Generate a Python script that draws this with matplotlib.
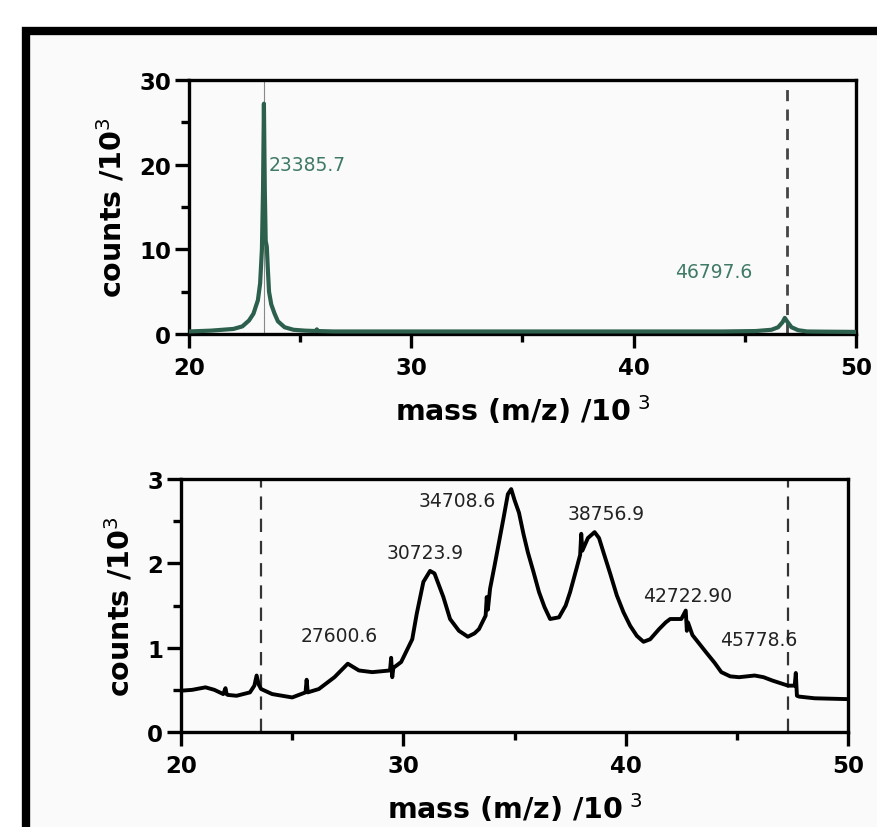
import matplotlib
matplotlib.use("Agg")
import matplotlib.pyplot as plt
from matplotlib.patches import Rectangle
from matplotlib.ticker import MultipleLocator

# ---- data ----
top_mass = [20.0, 20.5, 21.0, 21.5, 22.0, 22.4, 22.7, 22.9, 23.1, 23.2, 23.28, 23.33, 23.37,
            23.41, 23.45, 23.5, 23.54, 23.6, 23.7, 23.85, 24.0, 24.3, 24.7, 25.2,
            25.7, 25.75, 25.8, 26.5, 30.0, 35.0, 40.0, 44.0, 45.5, 46.2, 46.5, 46.7, 46.8, 46.9,
            47.1, 47.4, 47.8, 48.5, 50.0]
top_counts = [0.30, 0.35, 0.40, 0.50, 0.60, 0.90, 1.60, 2.40, 4.0, 6.0, 10.0, 17.0, 27.2,
              17.0, 11.0, 10.3, 8.0, 5.0, 3.5, 2.4, 1.5, 0.80, 0.50, 0.40,
              0.35, 0.55, 0.35, 0.30, 0.30, 0.30, 0.30, 0.30, 0.35, 0.50, 0.80, 1.40, 1.90, 1.50,
              0.80, 0.45, 0.30, 0.28, 0.25]
top_peak_labels = ["23385.7", "46797.6"]
top_label_pos = [(23.6, 20.0), (45.35, 7.4)]
top_marker_lines = [23.37, 46.9]

bot_mass = [20.0, 20.5, 21.1, 21.5, 21.9, 22.0, 22.05, 22.1, 22.5, 23.1, 23.3, 23.4, 23.5, 23.6, 24.1,
            25.0, 25.6, 25.65, 25.7, 26.2, 26.9, 27.5, 28.0, 28.6, 29.4, 29.45, 29.5, 29.55, 29.9,
            30.4, 30.6, 30.9, 31.2, 31.4, 31.6, 31.8, 32.1, 32.5, 32.9, 33.2, 33.4, 33.7, 33.75,
            33.8, 33.9, 34.1, 34.3, 34.5, 34.7, 34.85, 35.0, 35.2, 35.4, 35.6, 35.85, 36.1, 36.35,
            36.6, 37.0, 37.3, 37.5, 37.8, 37.95, 38.0, 38.05, 38.3, 38.6, 38.8, 39.0, 39.3, 39.6,
            39.9, 40.2, 40.5, 40.8, 41.1, 41.5, 41.8, 42.0, 42.5, 42.7, 42.75, 42.8, 43.0, 43.3,
            43.6, 44.0, 44.3, 44.7, 45.1, 45.8, 46.2, 46.6, 47.3, 47.6, 47.65, 47.7, 47.8, 48.5, 50.0]
bot_counts = [0.49, 0.50, 0.53, 0.50, 0.45, 0.52, 0.45, 0.44, 0.43, 0.47, 0.55, 0.67, 0.56, 0.51, 0.45,
              0.41, 0.47, 0.62, 0.47, 0.51, 0.65, 0.81, 0.73, 0.71, 0.73, 0.88, 0.65, 0.76, 0.83,
              1.10, 1.40, 1.78, 1.91, 1.88, 1.74, 1.60, 1.34, 1.20, 1.13, 1.17, 1.22, 1.38, 1.60,
              1.45, 1.70, 1.97, 2.25, 2.53, 2.82, 2.88, 2.75, 2.60, 2.35, 2.13, 1.90, 1.66, 1.48,
              1.34, 1.36, 1.50, 1.66, 1.95, 2.10, 2.35, 2.15, 2.30, 2.37, 2.30, 2.13, 1.88, 1.62,
              1.42, 1.26, 1.14, 1.07, 1.10, 1.22, 1.30, 1.34, 1.34, 1.44, 1.20, 1.30, 1.15, 1.05,
              0.95, 0.82, 0.71, 0.66, 0.65, 0.67, 0.65, 0.61, 0.55, 0.55, 0.70, 0.43, 0.42, 0.40, 0.39]
bot_peak_labels = ["27600.6", "30723.9", "34708.6", "38756.9", "42722.90", "45778.6"]
bot_label_pos = [(27.1, 1.14), (31.0, 2.13), (32.4, 2.74), (39.1, 2.59), (42.8, 1.62), (46.0, 1.10)]
bot_marker_lines = [23.6, 47.3]

plt.rcParams['font.family'] = ['DejaVu Sans']

fig = plt.figure(figsize=(8.77, 8.28), dpi=100)
fig.patch.set_facecolor('white')

# black frame, light interior
frame = Rectangle((26 / 877, -0.1), 1.2, (828 - 32) / 828 + 0.1, transform=fig.transFigure,
                  facecolor='#fafafa', edgecolor='black', linewidth=6, zorder=-10)
fig.patches.append(frame)

green = '#2c604d'
tgreen = '#3f7a66'

ax1 = fig.add_axes([0.2155, 0.5954, 0.7605, 0.3068])
ax2 = fig.add_axes([0.2064, 0.1147, 0.7606, 0.3056])

for ax in (ax1, ax2):
    ax.set_facecolor('#fafafa')
    for s in ax.spines.values():
        s.set_linewidth(2.4)
    ax.tick_params(direction='out', length=10, width=2.4, labelsize=16.5)
    ax.tick_params(axis='x', pad=6)
    ax.tick_params(axis='y', pad=3)
    ax.tick_params(which='minor', direction='out', length=6, width=2.4)
    ax.set_xlim(20, 50)
    ax.xaxis.set_major_locator(MultipleLocator(10))
    ax.xaxis.set_minor_locator(MultipleLocator(5))
    ax.set_xlabel('mass (m/z) /10$^{\\ 3}$', fontsize=20.5, fontweight='bold', labelpad=10)
    ax.set_ylabel('counts /10$^3$', fontsize=20.5, fontweight='bold', labelpad=8)

# top panel
ax1.set_ylim(0, 30)
ax1.yaxis.set_major_locator(MultipleLocator(10))
ax1.yaxis.set_minor_locator(MultipleLocator(5))
ax1.axvline(top_marker_lines[0], color='#888888', lw=0.8, zorder=1)
ax1.axvline(top_marker_lines[1], color='#444444', lw=2, ls=(0, (4, 3)), zorder=1)
ax1.plot(top_mass, top_counts, color=green, lw=3, zorder=3)
for t, (x, y) in zip(top_peak_labels, top_label_pos):
    ax1.text(x, y, t, color=tgreen, fontsize=13.5, ha='left' if x < 30 else 'right', va='center')

# bottom panel
ax2.set_ylim(0, 3)
ax2.yaxis.set_major_locator(MultipleLocator(1))
ax2.yaxis.set_minor_locator(MultipleLocator(0.5))
for xv in bot_marker_lines:
    ax2.axvline(xv, color='#333333', lw=1.6, ls=(0, (6, 4)), zorder=1)
ax2.plot(bot_mass, bot_counts, color='black', lw=2.8, zorder=3)
for t, (x, y) in zip(bot_peak_labels, bot_label_pos):
    ax2.text(x, y, t, color='#222222', fontsize=13.5, ha='center', va='center')

for ax in (ax1, ax2):
    for lab in ax.get_xticklabels() + ax.get_yticklabels():
        lab.set_fontweight('bold')

fig.savefig('out.png', dpi=100, facecolor='white')
